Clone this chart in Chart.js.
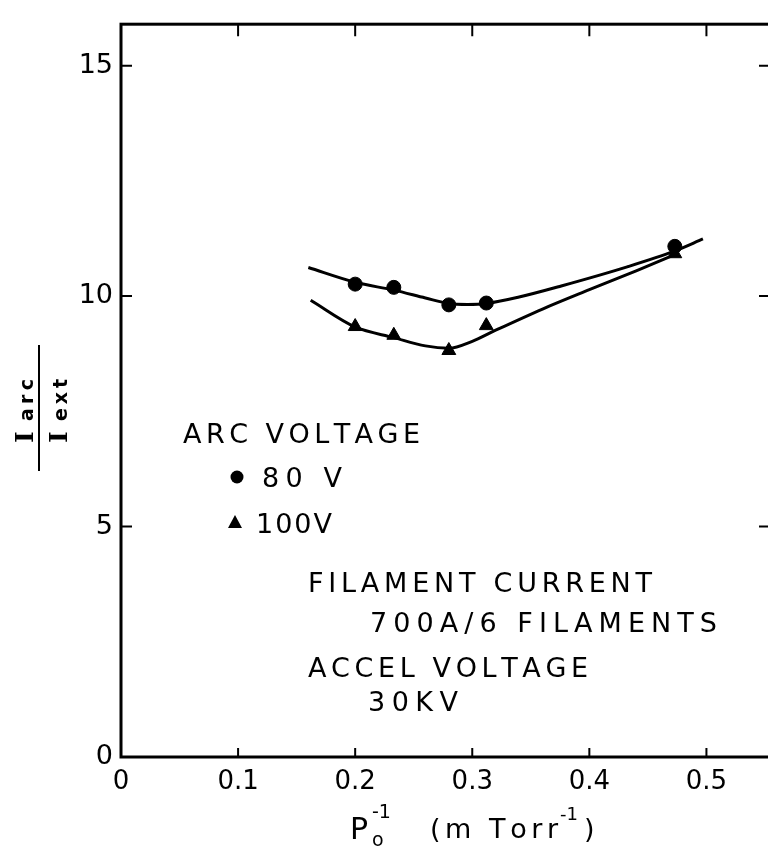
<!DOCTYPE html>
<html>
<head>
<meta charset="utf-8">
<title>Iarc / Iext vs 1/P0</title>
<script src="https://cdn.jsdelivr.net/npm/chart.js"></script>
<style>
  html, body { margin: 0; padding: 0; background: #fff; overflow: hidden; }
  #plot { display: block; }
</style>
</head>
<body>
<canvas id="plot" width="800" height="847"></canvas>
<script>
    // measured points, x = 1/P0 (mTorr^-1)
    var pressureInv = [0.200, 0.233, 0.280, 0.312, 0.473];
    var ratio80V = [10.26, 10.19, 9.81, 9.85, 11.08];
    var ratio100V = [9.34, 9.15, 8.82, 9.36, 10.92];

    // hand drawn fit curves through the points
    var fit80X = [0.160, 0.200, 0.233, 0.260, 0.280, 0.296, 0.312, 0.340, 0.376, 0.433, 0.473, 0.497];
    var fit80Y = [10.62, 10.30, 10.13, 9.96, 9.84, 9.82, 9.84, 9.98, 10.22, 10.64, 10.98, 11.24];
    var fit100X = [0.162, 0.200, 0.233, 0.260, 0.280, 0.300, 0.320, 0.360, 0.400, 0.440, 0.475];
    var fit100Y = [9.91, 9.33, 9.10, 8.92, 8.87, 9.02, 9.26, 9.72, 10.14, 10.55, 10.92];

    var xTicks = [0, 0.1, 0.2, 0.3, 0.4, 0.5];
    var yTicks = [0, 5, 10, 15];

    var FONT = '"DejaVu Sans", sans-serif';

    function pairs(xs, ys) {
        return xs.map(function (x, i) { return {x: x, y: ys[i]}; });
    }

    // draws text spread out to a given width (lettering style)
    function spaced(ctx, text, x, y, width) {
        var ws = [], total = 0;
        for (var i = 0; i < text.length; i++) {
            var w = ctx.measureText(text[i]).width;
            ws.push(w);
            total += w;
        }
        var gap = text.length > 1 ? (width - total) / (text.length - 1) : 0;
        var cx = x;
        for (var j = 0; j < text.length; j++) {
            ctx.fillText(text[j], cx, y);
            cx += ws[j] + gap;
        }
    }

    // frame with inward ticks on all four sides
    var framePlugin = {
        id: 'frame',
        afterDraw: function (chart) {
            var ctx = chart.ctx, a = chart.chartArea;
            var xs = chart.scales.x, ys = chart.scales.y;
            ctx.save();
            ctx.strokeStyle = '#000';
            ctx.lineWidth = 3;
            ctx.strokeRect(a.left, a.top, a.right - a.left, a.bottom - a.top);
            ctx.lineWidth = 2;
            ctx.beginPath();
            xTicks.forEach(function (v) {
                if (v === 0) return;
                var px = xs.getPixelForValue(v);
                ctx.moveTo(px, a.bottom); ctx.lineTo(px, a.bottom - 9);
                ctx.moveTo(px, a.top); ctx.lineTo(px, a.top + 12);
            });
            yTicks.forEach(function (v) {
                if (v === 0) return;
                var py = ys.getPixelForValue(v);
                ctx.moveTo(a.left, py); ctx.lineTo(a.left + 11, py);
                ctx.moveTo(a.right, py); ctx.lineTo(a.right - 13, py);
            });
            ctx.stroke();
            ctx.restore();
        }
    };

    // notes, legend and axis titles
    var notesPlugin = {
        id: 'notes',
        afterDraw: function (chart) {
            var ctx = chart.ctx;
            ctx.save();
            ctx.fillStyle = '#000';
            ctx.strokeStyle = '#000';
            ctx.textBaseline = 'alphabetic';
            ctx.textAlign = 'left';
            ctx.font = '27px ' + FONT;

            spaced(ctx, 'ARC VOLTAGE', 183, 443, 237);
            spaced(ctx, '80 V', 262, 487, 80);
            spaced(ctx, '100V', 256, 533, 76);
            spaced(ctx, 'FILAMENT CURRENT', 308, 592, 344);
            spaced(ctx, '700A/6 FILAMENTS', 370, 632, 347);
            spaced(ctx, 'ACCEL VOLTAGE', 308, 677, 280);
            spaced(ctx, '30KV', 368, 711, 90);

            // legend symbols
            ctx.beginPath();
            ctx.arc(237, 477, 6.5, 0, Math.PI * 2);
            ctx.fill();
            ctx.beginPath();
            ctx.moveTo(235, 515); ctx.lineTo(242, 528); ctx.lineTo(228, 528);
            ctx.closePath();
            ctx.fill();

            // x axis title: P0^-1 (mTorr^-1)
            ctx.font = '30px ' + FONT;
            ctx.fillText('P', 350, 839);
            ctx.font = '19px ' + FONT;
            ctx.fillText('o', 372, 846);
            ctx.fillText('-1', 372, 818);
            ctx.font = '27px ' + FONT;
            spaced(ctx, '(m Torr', 430, 838, 128);
            ctx.font = '18px ' + FONT;
            ctx.fillText('-1', 560, 820);
            ctx.font = '27px ' + FONT;
            ctx.fillText(')', 584, 838);

            // y axis title: Iarc over Iext, rotated
            ctx.lineWidth = 2;
            ctx.beginPath();
            ctx.moveTo(39, 345); ctx.lineTo(39, 471);
            ctx.stroke();
            [['arc', 33], ['ext', 67]].forEach(function (t) {
                ctx.save();
                ctx.translate(t[1], 443);
                ctx.rotate(-Math.PI / 2);
                ctx.font = 'bold 25px "DejaVu Serif", serif';
                ctx.fillText('I', 0, 0);
                ctx.font = 'bold 19px ' + FONT;
                spaced(ctx, t[0], 22, 0, 42);
                ctx.restore();
            });
            ctx.restore();
        }
    };

    var chart = new Chart(document.getElementById('plot'), {
        type: 'scatter',
        data: {
            datasets: [
                {
                    data: pairs(fit80X, fit80Y),
                    showLine: true, pointRadius: 0,
                    borderColor: '#000', borderWidth: 3,
                    cubicInterpolationMode: 'monotone'
                },
                {
                    data: pairs(fit100X, fit100Y),
                    showLine: true, pointRadius: 0,
                    borderColor: '#000', borderWidth: 3,
                    cubicInterpolationMode: 'monotone'
                },
                {
                    label: '80 V',
                    data: pairs(pressureInv, ratio80V),
                    pointStyle: 'circle', pointRadius: 7,
                    backgroundColor: '#000', borderColor: '#000'
                },
                {
                    label: '100 V',
                    data: pairs(pressureInv, ratio100V),
                    pointStyle: 'triangle', pointRadius: 8,
                    backgroundColor: '#000', borderColor: '#000'
                }
            ]
        },
        options: {
            responsive: false,
            animation: false,
            layout: { padding: { left: 0, top: 16, right: 28, bottom: 0 } },
            plugins: { legend: { display: false }, tooltip: { enabled: false } },
            scales: {
                x: {
                    type: 'linear', min: 0, max: 0.556,
                    grid: { display: false, drawTicks: false },
                    border: { display: false },
                    afterBuildTicks: function (s) { s.ticks = xTicks.map(function (v) { return {value: v}; }); },
                    afterFit: function (s) { s.height = 90; },
                    ticks: {
                        padding: 10, color: '#000', autoSkip: false, maxRotation: 0,
                        font: { family: FONT, size: 26 },
                        callback: function (v) { return v === 0 ? '0' : v.toFixed(1); }
                    }
                },
                y: {
                    min: 0, max: 15.9,
                    grid: { display: false, drawTicks: false },
                    border: { display: false },
                    afterBuildTicks: function (s) { s.ticks = yTicks.map(function (v) { return {value: v}; }); },
                    afterFit: function (s) { s.width = 121; },
                    ticks: {
                        padding: 8, color: '#000',
                        font: { family: FONT, size: 27 }
                    }
                }
            }
        },
        plugins: [framePlugin, notesPlugin]
    });
</script>
</body>
</html>
